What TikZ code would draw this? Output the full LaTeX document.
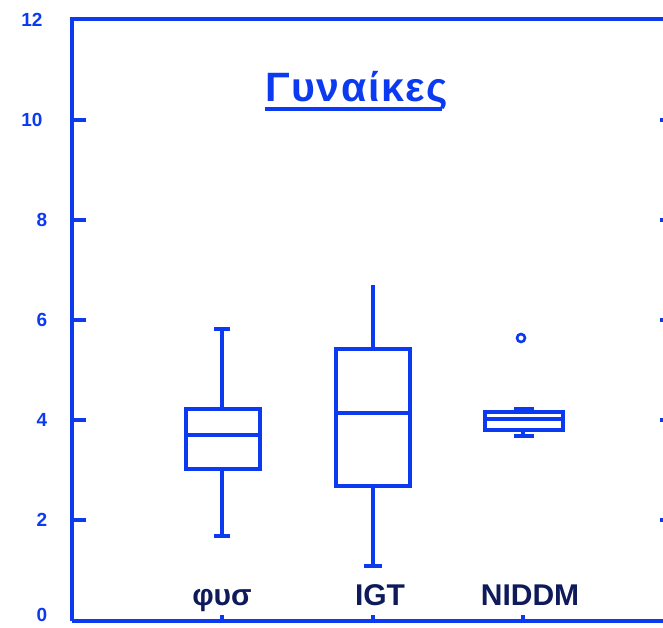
\documentclass[tikz,border=0pt]{standalone}
\usepackage{fontspec}
\setmainfont{Liberation Sans}
\definecolor{plotblue}{RGB}{12,58,240}
\definecolor{navy}{RGB}{14,26,90}
\begin{document}
\begin{tikzpicture}[x=1pt,y=-1pt,
  line/.style={plotblue,line width=3.2pt},
  axlab/.style={plotblue,font=\fontsize{19}{19}\selectfont\bfseries,inner sep=0pt},
  catlab/.style={navy,font=\fontsize{30}{30}\selectfont\bfseries,inner sep=0pt,anchor=base},
  ]
\useasboundingbox (0,0) rectangle (663,627);
% frame
\draw[line,line width=3.6pt] (72,621) -- (72,19) -- (670,19);
\draw[line,line width=3.6pt] (72,621) -- (670,621);
% left ticks
\foreach \v in {2,4,6,8,10}{\draw[line] (72,{620-50*\v}) -- (86,{620-50*\v});}
% right ticks
\foreach \v in {2,4,6,8,10}{\draw[line] (660,{620-50*\v}) -- (666,{620-50*\v});}
% bottom ticks
\foreach \x in {222,373,523}{\draw[line] (\x,621) -- (\x,615);}
% axis labels
\node[axlab] (l12) at (32,20) {12};
\node[axlab] (l10) at (32,120) {10};
\node[axlab] (l8) at (42,220) {8};
\node[axlab] (l6) at (42,320) {6};
\node[axlab] (l4) at (42,420) {4};
\node[axlab] (l2) at (42,520) {2};
\node[axlab] (l0) at (42,615) {0};
% title
\node[plotblue,font=\fontsize{41}{41}\selectfont\bfseries\addfontfeature{LetterSpace=4},inner sep=0pt,anchor=base west] (title) at (265,101) {Γυναίκες};
\draw[line] (265,109) -- (442,109);
% category labels
\node[catlab] (c1) at (222,605) {φυσ};
\node[catlab] (c2) at (380,605) {IGT};
\node[catlab] (c3) at (530,605) {NIDDM};
% box φυσ
\draw[line] (222,329) -- (222,409) (222,469) -- (222,536);
\draw[line] (214,329) -- (230,329) (214,536) -- (230,536);
\draw[line] (186,409) rectangle (260,469);
\draw[line] (186,435) -- (260,435);
% box IGT
\draw[line] (373,285) -- (373,349) (373,486) -- (373,566);
\draw[line] (364,566) -- (382,566);
\draw[line] (336,349) rectangle (410,486);
\draw[line] (336,413) -- (410,413);
% box NIDDM
\draw[line] (514,409) -- (534,409);
\draw[line] (523,430) -- (523,436) (514,436) -- (534,436);
\draw[line] (485,412) rectangle (563,430);
\draw[line] (485,419) -- (563,419);
\draw[plotblue,line width=2.6pt] (521,338) circle (4);
\end{tikzpicture}
\end{document}
